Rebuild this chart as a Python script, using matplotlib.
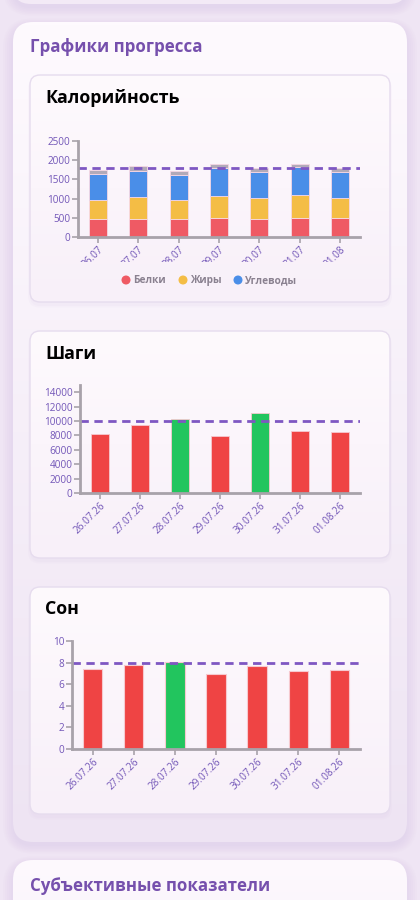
import numpy as np
import matplotlib.pyplot as plt
from matplotlib.patches import FancyBboxPatch, Circle
from matplotlib.transforms import Bbox
from matplotlib.colors import LinearSegmentedColormap

plt.rcParams['font.family'] = ['Open Sans', 'DejaVu Sans']

# --- data ---
days_short = ["26.07", "27.07", "28.07", "29.07", "30.07", "31.07", "01.08"]
days_long = ["26.07.26", "27.07.26", "28.07.26", "29.07.26", "30.07.26", "31.07.26", "01.08.26"]

protein = [460, 480, 470, 490, 470, 505, 490]
fat = [515, 555, 495, 575, 540, 585, 520]
carbs = [670, 690, 655, 740, 690, 740, 690]
other = [105, 115, 95, 85, 95, 80, 95]
cal_goal = 1800

steps = [8150, 9450, 10250, 7850, 11150, 8600, 8450]
steps_goal = 10000

sleep = [7.4, 7.8, 8.1, 6.9, 7.7, 7.2, 7.3]
sleep_goal = 8

macro_labels = ["Белки", "Жиры", "Углеводы"]
macro_colors = ["#ef5a64", "#f4bd45", "#4a8ee8"]
other_color = "#b2aab9"
RED, GREEN = "#ef4444", "#22c55e"
GOAL = "#7e57c2"
TICK = "#7357b8"
SPINE = "#a8a2aa"

W, H = 420, 900
fig = plt.figure(figsize=(W / 100, H / 100), dpi=100)
fig.patch.set_facecolor("#efe5f4")

bg = fig.add_axes([0, 0, 1, 1])
bg.set_xlim(0, W)
bg.set_ylim(H, 0)
bg.axis("off")


def card(x0, y0, x1, y1, r, top, bottom, z, edge=None, shadow=6):
    for k in range(shadow):
        s = FancyBboxPatch((x0 - k * 2, y0 - k * 1.5 + 4), x1 - x0 + k * 4, y1 - y0 + k * 3,
                           boxstyle=f"round,pad=0,rounding_size={r + k * 2}",
                           fc="#d6c4e6", ec="none", alpha=0.08, zorder=z)
        bg.add_patch(s)
    p = FancyBboxPatch((x0, y0), x1 - x0, y1 - y0,
                       boxstyle=f"round,pad=0,rounding_size={r}",
                       fc="none", ec=edge if edge else "none", lw=1, zorder=z + 0.2)
    bg.add_patch(p)
    grad = np.linspace(0, 1, 256)[:, None]
    cmap = LinearSegmentedColormap.from_list("g", [top, bottom])
    im = bg.imshow(grad, extent=(x0, x1, y1, y0), cmap=cmap, aspect="auto", zorder=z + 0.1)
    im.set_clip_path(p)


# cards
card(13, -40, 407, 4, 18, "#faf4fb", "#f3eaf6", 0)
card(13, 22, 407, 842, 20, "#fefafe", "#eee4f3", 0)
card(13, 860, 407, 940, 20, "#fefafe", "#f9f2fa", 0)
for y0, y1 in [(75, 302), (331, 558), (587, 814)]:
    card(30, y0, 390, y1, 10, "#fefafd", "#f8f0f9", 1, edge="#e6dcee", shadow=2)

bg.text(30, 47, "Графики прогресса", color="#7650ad", fontsize=12.2, fontweight="bold", va="center", zorder=3)
bg.text(30, 886, "Субъективные показатели", color="#7650ad", fontsize=12.2, fontweight="bold", va="center", zorder=3)
bg.text(45, 98, "Калорийность", color="black", fontsize=12.8, fontweight="bold", va="center", zorder=3)
bg.text(45, 354, "Шаги", color="black", fontsize=12.8, fontweight="bold", va="center", zorder=3)
bg.text(45, 609, "Сон", color="black", fontsize=12.8, fontweight="bold", va="center", zorder=3)


def make_ax(x0, y0, x1, y1):
    ax = fig.add_axes([x0 / W, 1 - y1 / H, (x1 - x0) / W, (y1 - y0) / H])
    ax.set_facecolor("none")
    for s in ["top", "right"]:
        ax.spines[s].set_visible(False)
    for s in ["left", "bottom"]:
        ax.spines[s].set_color(SPINE)
        ax.spines[s].set_linewidth(2)
    ax.tick_params(axis="both", colors=SPINE, labelcolor=TICK, labelsize=7.2, length=4, width=1.2, pad=1.5)
    ax.set_xlim(-0.5, 6.5)
    return ax


x = np.arange(7)
bw = 0.45

# calories
ax1 = make_ax(78, 141, 360, 237)
bottom = np.zeros(7)
for vals, c in zip([protein, fat, carbs, other], macro_colors + [other_color]):
    ax1.bar(x, vals, bw, bottom=bottom, color=c, edgecolor="#f6d7e4", linewidth=0.6)
    bottom += np.array(vals)
ax1.axhline(cal_goal, color=GOAL, ls=(0, (3, 2)), lw=2)
ax1.set_ylim(0, 2500)
ax1.set_yticks(range(0, 2501, 500))
ax1.set_xticks(x)
ax1.set_xticklabels(days_short, rotation=45, ha="right", rotation_mode="anchor")
clip = Bbox.from_extents(0, H - 262, W, H)
for lab in ax1.get_xticklabels():
    lab.set_clip_box(clip)
    lab.set_clip_on(True)

# legend
lx = [126, 183, 238]
for xx, lab, c in zip(lx, macro_labels, macro_colors):
    bg.add_patch(Circle((xx, 280), 3.8, color=c, zorder=3))
    bg.text(xx + 7, 280.5, lab, color="#8a8190", fontsize=7.3, fontweight="bold", va="center", zorder=3)

# steps
ax2 = make_ax(80, 385, 360, 493)
ax2.bar(x, steps, bw, color=[GREEN if v >= steps_goal else RED for v in steps],
        edgecolor="#f6c9cf", linewidth=0.6)
ax2.axhline(steps_goal, color=GOAL, ls=(0, (3, 2)), lw=2)
ax2.set_ylim(0, 15000)
ax2.set_yticks(range(0, 14001, 2000))
ax2.set_xticks(x)
ax2.set_xticklabels(days_long, rotation=45, ha="right", rotation_mode="anchor")

# sleep
ax3 = make_ax(72, 641, 360, 749)
ax3.bar(x, sleep, bw * 1.05, color=[GREEN if v >= sleep_goal else RED for v in sleep],
        edgecolor="#f6c9cf", linewidth=0.8)
ax3.axhline(sleep_goal, color=GOAL, ls=(0, (3, 2)), lw=2)
ax3.set_ylim(0, 10)
ax3.set_yticks(range(0, 11, 2))
ax3.set_xticks(x)
ax3.set_xticklabels(days_long, rotation=45, ha="right", rotation_mode="anchor")

fig.savefig("out.png", dpi=100, facecolor=fig.get_facecolor())
